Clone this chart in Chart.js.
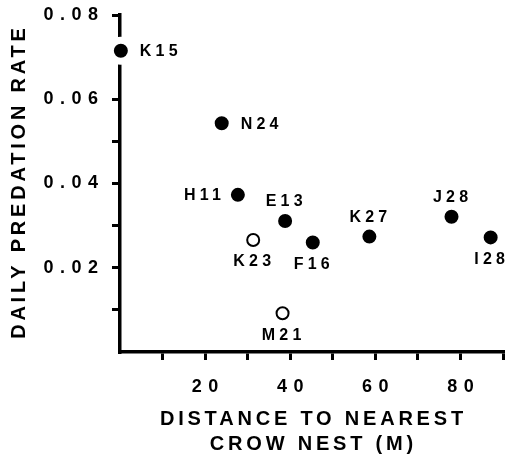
<!DOCTYPE html>
<html>
<head>
<meta charset="utf-8">
<script src="https://cdn.jsdelivr.net/npm/chart.js@4.4.1/dist/chart.umd.min.js"></script>
<style>
    html, body { margin: 0; padding: 0; background: #fff; }
    #wrap { width: 506px; height: 462px; }
</style>
</head>
<body>
<div id="wrap"><canvas id="chart" width="506" height="462"></canvas></div>
<script>
// --- Data ---
// filled dots
const filledSites = ['K15', 'N24', 'H11', 'E13', 'F16', 'K27', 'J28', 'I28'];
const filledDistance = [0.2, 23.9, 27.7, 38.8, 45.3, 58.6, 77.9, 87.1];
const filledRate = [0.0715, 0.0543, 0.0373, 0.0311, 0.0260, 0.0274, 0.0321, 0.0272];

// open dots
const openSites = ['K23', 'M21'];
const openDistance = [31.3, 38.2];
const openRate = [0.0266, 0.0092];

// labelled ticks
const xTickLabels = [20, 40, 60, 80];
const yTickLabels = [0.02, 0.04, 0.06, 0.08];

// where each site name sits next to its dot
const labelPlacement = {
    'K15': 'right', 'N24': 'right', 'H11': 'left', 'E13': 'above',
    'F16': 'below', 'K27': 'above', 'J28': 'above', 'I28': 'below',
    'K23': 'below', 'M21': 'below'
};

const FONT = '"Liberation Sans", Arial, Helvetica, sans-serif';
const TICK_SPACING = 6.5;
const TITLE_SPACING = 3.8;
const LABEL_SPACING = 4.2;

// --- Plugins ---
// Chart.js has no letter spacing option, so wrap the scale text drawing
function withSpacing(scale, name, px) {
    const orig = scale[name];
    scale[name] = function (...args) {
        const c = this.ctx;
        c.save();
        c.letterSpacing = px + 'px';
        // centred text gets pushed back by the trailing gap, put it back
        if (name === 'drawTitle') {
            if (this.isHorizontal()) c.translate(px / 2, 0);
            else c.translate(0, -px / 2);
        } else if (this.isHorizontal()) {
            c.translate(px / 2, 0);
        }
        orig.apply(this, args);
        c.restore();
    };
}

const spacedText = {
    id: 'spacedText',
    beforeDraw(chart) {
        Object.values(chart.scales).forEach(scale => {
            if (scale._spaced) return;
            scale._spaced = true;
            withSpacing(scale, 'drawLabels', TICK_SPACING);
            withSpacing(scale, 'drawTitle', TITLE_SPACING);
        });
    }
};

// site names next to the dots
const siteLabels = {
    id: 'siteLabels',
    afterDatasetsDraw(chart) {
        const ctx = chart.ctx;
        ctx.save();
        ctx.font = 'bold 16px ' + FONT;
        ctx.fillStyle = '#000';
        ctx.textBaseline = 'middle';
        ctx.letterSpacing = LABEL_SPACING + 'px';
        chart.data.datasets.forEach((ds, i) => {
            chart.getDatasetMeta(i).data.forEach((pt, j) => {
                const name = ds.siteNames[j];
                const place = labelPlacement[name];
                let x = pt.x, y = pt.y;
                if (place === 'right') {
                    ctx.textAlign = 'left';
                    x += 19;
                } else if (place === 'left') {
                    ctx.textAlign = 'right';
                    x -= 17 - LABEL_SPACING;
                } else {
                    ctx.textAlign = 'center';
                    x += LABEL_SPACING / 2 - 1;
                    y += place === 'above' ? -20 : 21;
                }
                ctx.fillText(name, x, y + 1);
            });
        });
        ctx.restore();
    }
};

const ctx = document.getElementById('chart').getContext('2d');

new Chart(ctx, {
    type: 'scatter',
    data: {
        datasets: [
            {
                label: 'filled',
                siteNames: filledSites,
                data: filledDistance.map((d, i) => ({ x: d, y: filledRate[i] })),
                pointRadius: 10.5,
                pointBorderWidth: 7,
                pointBackgroundColor: '#000',
                pointBorderColor: '#fff',
                pointHoverRadius: 10.5,
                clip: false
            },
            {
                label: 'open',
                siteNames: openSites,
                data: openDistance.map((d, i) => ({ x: d, y: openRate[i] })),
                pointRadius: 6,
                pointBorderWidth: 2,
                pointBackgroundColor: '#fff',
                pointBorderColor: '#000',
                pointHoverRadius: 6,
                clip: false
            }
        ]
    },
    options: {
        responsive: false,
        devicePixelRatio: 1,
        animation: false,
        events: [],
        layout: { autoPadding: false, padding: { top: 15, right: 3, left: 0, bottom: 0 } },
        plugins: {
            legend: { display: false },
            tooltip: { enabled: false }
        },
        scales: {
            x: {
                type: 'linear',
                position: 'bottom',
                min: 0,
                max: 90,
                afterFit(scale) {
                    scale.height = 110;
                    scale.paddingLeft = 0;
                    scale.paddingRight = 0;
                },
                afterBuildTicks(scale) { scale.ticks = scale.ticks.filter(t => t.value > 0); },
                border: { display: true, color: '#000', width: 3.5 },
                grid: {
                    display: true, drawOnChartArea: false, drawTicks: true,
                    tickLength: 8, lineWidth: 3, color: '#000'
                },
                ticks: {
                    stepSize: 10,
                    autoSkip: false,
                    maxRotation: 0,
                    padding: 16,
                    color: '#000',
                    font: { family: FONT, size: 18, weight: 'bold' },
                    callback: v => xTickLabels.includes(Math.round(v)) ? String(Math.round(v)) : ''
                },
                title: {
                    display: true,
                    text: ['DISTANCE TO NEAREST', 'CROW NEST (M)'],
                    color: '#000',
                    font: { family: FONT, size: 20, weight: 'bold', lineHeight: 1.25 },
                    padding: { top: 0, bottom: 5.5 }
                }
            },
            y: {
                type: 'linear',
                min: 0,
                max: 0.08,
                afterFit(scale) {
                    scale.width = 120;
                    scale.paddingTop = 0;
                    scale.paddingBottom = 0;
                },
                afterBuildTicks(scale) { scale.ticks = scale.ticks.filter(t => t.value > 1e-9); },
                border: { display: true, color: '#000', width: 3.5 },
                grid: {
                    display: true, drawOnChartArea: false, drawTicks: true,
                    tickLength: 8, lineWidth: 3, color: '#000'
                },
                ticks: {
                    stepSize: 0.01,
                    autoSkip: false,
                    padding: 7.5,
                    color: '#000',
                    font: { family: FONT, size: 18, weight: 'bold' },
                    callback: v => {
                        const h = Math.round(v * 100);
                        return yTickLabels.some(l => Math.round(l * 100) === h) ? (h / 100).toFixed(2) : '';
                    }
                },
                title: {
                    display: true,
                    text: 'DAILY PREDATION RATE',
                    color: '#000',
                    font: { family: FONT, size: 20, weight: 'bold' },
                    padding: { top: 7, bottom: 0 }
                }
            }
        }
    },
    plugins: [spacedText, siteLabels]
});
</script>
</body>
</html>
